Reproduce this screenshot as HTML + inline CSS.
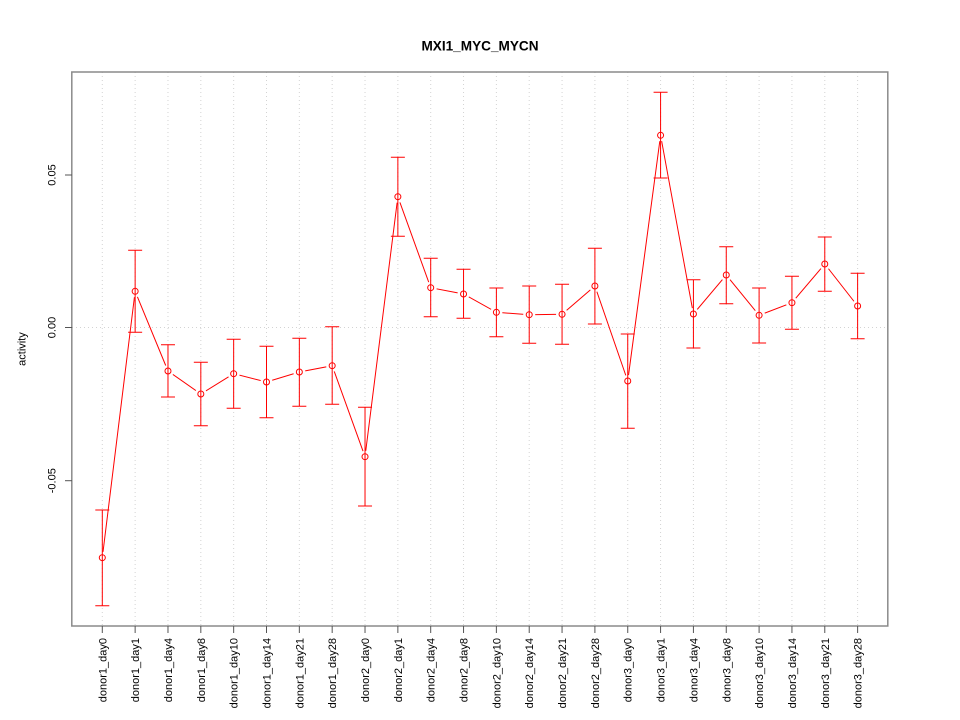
<!DOCTYPE html>
<html><head><meta charset="utf-8"><style>
html,body{margin:0;padding:0;background:#fff;}
svg{display:block;}
text{font-family:"Liberation Sans",Arial,sans-serif;fill:#000;}
</style></head><body>
<svg width="960" height="720" viewBox="0 0 960 720" xmlns="http://www.w3.org/2000/svg">
<rect width="960" height="720" fill="#fff"/>
<!-- grid -->
<g stroke="#d3d3d3" stroke-width="1" stroke-dasharray="1,3" fill="none">
<line x1="102.3" y1="72" x2="102.3" y2="626"/>
<line x1="135.14" y1="72" x2="135.14" y2="626"/>
<line x1="167.98" y1="72" x2="167.98" y2="626"/>
<line x1="200.82" y1="72" x2="200.82" y2="626"/>
<line x1="233.66" y1="72" x2="233.66" y2="626"/>
<line x1="266.5" y1="72" x2="266.5" y2="626"/>
<line x1="299.34" y1="72" x2="299.34" y2="626"/>
<line x1="332.18" y1="72" x2="332.18" y2="626"/>
<line x1="365.02" y1="72" x2="365.02" y2="626"/>
<line x1="397.86" y1="72" x2="397.86" y2="626"/>
<line x1="430.7" y1="72" x2="430.7" y2="626"/>
<line x1="463.54" y1="72" x2="463.54" y2="626"/>
<line x1="496.38" y1="72" x2="496.38" y2="626"/>
<line x1="529.22" y1="72" x2="529.22" y2="626"/>
<line x1="562.06" y1="72" x2="562.06" y2="626"/>
<line x1="594.9" y1="72" x2="594.9" y2="626"/>
<line x1="627.74" y1="72" x2="627.74" y2="626"/>
<line x1="660.58" y1="72" x2="660.58" y2="626"/>
<line x1="693.42" y1="72" x2="693.42" y2="626"/>
<line x1="726.26" y1="72" x2="726.26" y2="626"/>
<line x1="759.1" y1="72" x2="759.1" y2="626"/>
<line x1="791.94" y1="72" x2="791.94" y2="626"/>
<line x1="824.78" y1="72" x2="824.78" y2="626"/>
<line x1="857.62" y1="72" x2="857.62" y2="626"/>
<line x1="72" y1="327.5" x2="888" y2="327.5"/>
</g>
<!-- series line -->
<polyline fill="none" stroke="#ff0000" stroke-width="1" points="102.3,557.7 135.14,291.3 167.98,371 200.82,394 233.66,373.7 266.5,382 299.34,372 332.18,365.7 365.02,456.7 397.86,196.7 430.7,287.7 463.54,294 496.38,312.3 529.22,314.7 562.06,314.3 594.9,286 627.74,381 660.58,135.3 693.42,314 726.26,275 759.1,315.3 791.94,302.7 824.78,264 857.62,306"/>
<!-- gaps around points -->
<g fill="#fff">
<circle cx="102.3" cy="557.7" r="6"/>
<circle cx="135.14" cy="291.3" r="6"/>
<circle cx="167.98" cy="371" r="6"/>
<circle cx="200.82" cy="394" r="6"/>
<circle cx="233.66" cy="373.7" r="6"/>
<circle cx="266.5" cy="382" r="6"/>
<circle cx="299.34" cy="372" r="6"/>
<circle cx="332.18" cy="365.7" r="6"/>
<circle cx="365.02" cy="456.7" r="6"/>
<circle cx="397.86" cy="196.7" r="6"/>
<circle cx="430.7" cy="287.7" r="6"/>
<circle cx="463.54" cy="294" r="6"/>
<circle cx="496.38" cy="312.3" r="6"/>
<circle cx="529.22" cy="314.7" r="6"/>
<circle cx="562.06" cy="314.3" r="6"/>
<circle cx="594.9" cy="286" r="6"/>
<circle cx="627.74" cy="381" r="6"/>
<circle cx="660.58" cy="135.3" r="6"/>
<circle cx="693.42" cy="314" r="6"/>
<circle cx="726.26" cy="275" r="6"/>
<circle cx="759.1" cy="315.3" r="6"/>
<circle cx="791.94" cy="302.7" r="6"/>
<circle cx="824.78" cy="264" r="6"/>
<circle cx="857.62" cy="306" r="6"/>
</g>
<!-- error bars -->
<g stroke="#ff0000" stroke-width="1" fill="none">
<path d="M102.3 510V605.7M95.3 510H109.3M95.3 605.7H109.3"/>
<path d="M135.14 250.3V332.3M128.14 250.3H142.14M128.14 332.3H142.14"/>
<path d="M167.98 344.7V397M160.98 344.7H174.98M160.98 397H174.98"/>
<path d="M200.82 362.3V425.7M193.82 362.3H207.82M193.82 425.7H207.82"/>
<path d="M233.66 339.3V408.3M226.66 339.3H240.66M226.66 408.3H240.66"/>
<path d="M266.5 346.3V417.7M259.5 346.3H273.5M259.5 417.7H273.5"/>
<path d="M299.34 338.3V406.3M292.34 338.3H306.34M292.34 406.3H306.34"/>
<path d="M332.18 326.7V404.3M325.18 326.7H339.18M325.18 404.3H339.18"/>
<path d="M365.02 407.3V506M358.02 407.3H372.02M358.02 506H372.02"/>
<path d="M397.86 157.3V236.3M390.86 157.3H404.86M390.86 236.3H404.86"/>
<path d="M430.7 258.3V316.7M423.7 258.3H437.7M423.7 316.7H437.7"/>
<path d="M463.54 269.3V318.3M456.54 269.3H470.54M456.54 318.3H470.54"/>
<path d="M496.38 288V336.7M489.38 288H503.38M489.38 336.7H503.38"/>
<path d="M529.22 286V343.3M522.22 286H536.22M522.22 343.3H536.22"/>
<path d="M562.06 284.3V344.3M555.06 284.3H569.06M555.06 344.3H569.06"/>
<path d="M594.9 248.3V324M587.9 248.3H601.9M587.9 324H601.9"/>
<path d="M627.74 334V428.3M620.74 334H634.74M620.74 428.3H634.74"/>
<path d="M660.58 92.3V178M653.58 92.3H667.58M653.58 178H667.58"/>
<path d="M693.42 279.7V348M686.42 279.7H700.42M686.42 348H700.42"/>
<path d="M726.26 246.7V303.7M719.26 246.7H733.26M719.26 303.7H733.26"/>
<path d="M759.1 288V343M752.1 288H766.1M752.1 343H766.1"/>
<path d="M791.94 276.3V329.3M784.94 276.3H798.94M784.94 329.3H798.94"/>
<path d="M824.78 237V291.3M817.78 237H831.78M817.78 291.3H831.78"/>
<path d="M857.62 273.3V338.7M850.62 273.3H864.62M850.62 338.7H864.62"/>
</g>
<!-- points -->
<g stroke="#ff0000" stroke-width="1" fill="none">
<circle cx="102.3" cy="557.7" r="3"/>
<circle cx="135.14" cy="291.3" r="3"/>
<circle cx="167.98" cy="371" r="3"/>
<circle cx="200.82" cy="394" r="3"/>
<circle cx="233.66" cy="373.7" r="3"/>
<circle cx="266.5" cy="382" r="3"/>
<circle cx="299.34" cy="372" r="3"/>
<circle cx="332.18" cy="365.7" r="3"/>
<circle cx="365.02" cy="456.7" r="3"/>
<circle cx="397.86" cy="196.7" r="3"/>
<circle cx="430.7" cy="287.7" r="3"/>
<circle cx="463.54" cy="294" r="3"/>
<circle cx="496.38" cy="312.3" r="3"/>
<circle cx="529.22" cy="314.7" r="3"/>
<circle cx="562.06" cy="314.3" r="3"/>
<circle cx="594.9" cy="286" r="3"/>
<circle cx="627.74" cy="381" r="3"/>
<circle cx="660.58" cy="135.3" r="3"/>
<circle cx="693.42" cy="314" r="3"/>
<circle cx="726.26" cy="275" r="3"/>
<circle cx="759.1" cy="315.3" r="3"/>
<circle cx="791.94" cy="302.7" r="3"/>
<circle cx="824.78" cy="264" r="3"/>
<circle cx="857.62" cy="306" r="3"/>
</g>
<!-- frame -->
<rect x="71.8" y="72" width="816" height="554" fill="none" stroke="#8a8a8a" stroke-width="1.5"/>
<!-- y ticks -->
<g stroke="#555" stroke-width="1">
<line x1="65" y1="175" x2="72" y2="175"/>
<line x1="65" y1="327.5" x2="72" y2="327.5"/>
<line x1="65" y1="480.7" x2="72" y2="480.7"/>
</g>
<g font-size="11" text-anchor="middle">
<text transform="translate(55.5,175) rotate(-90)">0.05</text>
<text transform="translate(55.5,327.5) rotate(-90)">0.00</text>
<text transform="translate(55.5,480.7) rotate(-90)">-0.05</text>
<text transform="translate(25.5,349) rotate(-90)">activity</text>
</g>
<!-- x ticks -->
<g stroke="#555" stroke-width="1">
<path d="M102.3 626V633M135.14 626V633M167.98 626V633M200.82 626V633M233.66 626V633M266.5 626V633M299.34 626V633M332.18 626V633M365.02 626V633M397.86 626V633M430.7 626V633M463.54 626V633M496.38 626V633M529.22 626V633M562.06 626V633M594.9 626V633M627.74 626V633M660.58 626V633M693.42 626V633M726.26 626V633M759.1 626V633M791.94 626V633M824.78 626V633M857.62 626V633"/>
</g>
<g font-size="11" text-anchor="end">
<text transform="translate(106.3,638) rotate(-90)">donor1_day0</text>
<text transform="translate(139.14,638) rotate(-90)">donor1_day1</text>
<text transform="translate(171.98,638) rotate(-90)">donor1_day4</text>
<text transform="translate(204.82,638) rotate(-90)">donor1_day8</text>
<text transform="translate(237.66,638) rotate(-90)">donor1_day10</text>
<text transform="translate(270.5,638) rotate(-90)">donor1_day14</text>
<text transform="translate(303.34,638) rotate(-90)">donor1_day21</text>
<text transform="translate(336.18,638) rotate(-90)">donor1_day28</text>
<text transform="translate(369.02,638) rotate(-90)">donor2_day0</text>
<text transform="translate(401.86,638) rotate(-90)">donor2_day1</text>
<text transform="translate(434.7,638) rotate(-90)">donor2_day4</text>
<text transform="translate(467.54,638) rotate(-90)">donor2_day8</text>
<text transform="translate(500.38,638) rotate(-90)">donor2_day10</text>
<text transform="translate(533.22,638) rotate(-90)">donor2_day14</text>
<text transform="translate(566.06,638) rotate(-90)">donor2_day21</text>
<text transform="translate(598.9,638) rotate(-90)">donor2_day28</text>
<text transform="translate(631.74,638) rotate(-90)">donor3_day0</text>
<text transform="translate(664.58,638) rotate(-90)">donor3_day1</text>
<text transform="translate(697.42,638) rotate(-90)">donor3_day4</text>
<text transform="translate(730.26,638) rotate(-90)">donor3_day8</text>
<text transform="translate(763.1,638) rotate(-90)">donor3_day10</text>
<text transform="translate(795.94,638) rotate(-90)">donor3_day14</text>
<text transform="translate(828.78,638) rotate(-90)">donor3_day21</text>
<text transform="translate(861.62,638) rotate(-90)">donor3_day28</text>
</g>
<!-- title -->
<text x="480" y="50.7" font-size="13.6" font-weight="bold" text-anchor="middle">MXI1_MYC_MYCN</text>
</svg>
</body></html>
